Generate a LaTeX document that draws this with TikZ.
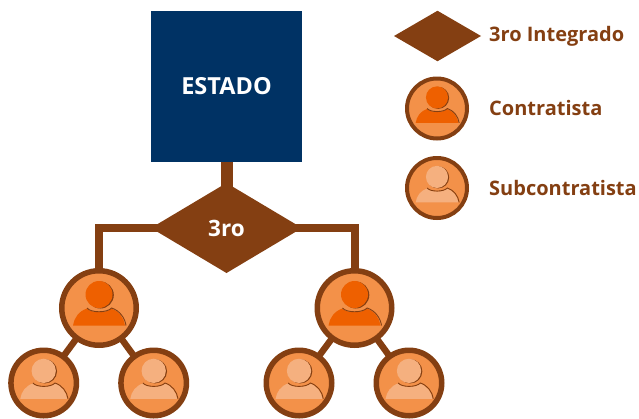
\documentclass[tikz,border=0pt]{standalone}
\usepackage{fontspec}
\setmainfont{Open Sans}
\usetikzlibrary{shapes.geometric,backgrounds}
\definecolor{brn}{HTML}{843F12}
\definecolor{org}{HTML}{F39149}
\definecolor{vivid}{HTML}{EE6000}
\definecolor{pale}{HTML}{F5B07F}
\definecolor{navy}{HTML}{003264}
\tikzset{
  x=1pt,y=-1pt,
  disc/.style={circle,draw=brn,fill=org,inner sep=0pt,outer sep=0pt},
  bigdisc/.style={disc,line width=5.5pt,minimum size=74.5pt},
  smalldisc/.style={disc,line width=5.5pt,minimum size=65.5pt},
  keydisc/.style={disc,line width=4pt,minimum size=60pt},
  rhomb/.style={diamond,fill=brn,inner sep=0pt,outer sep=0pt,shape aspect=1.68},
  link/.style={draw=brn,line width=8pt},
  twig/.style={draw=brn,line width=6.5pt},
  trunk/.style={draw=brn,line width=12pt},
  keytext/.style={anchor=west,text=brn,font=\fontsize{20}{20}\selectfont\bfseries,inner sep=0pt},
  person/.pic={
    \fill[brn] (1.3,-13) circle[radius=13.5];
    \fill[#1] (0,-13.5) circle[radius=13.5];
    \fill[#1] (-26,17.5) .. controls (-25,10) and (-20,3) .. (-12,0.5)
      .. controls (-8,5.5) and (8,5.5) .. (12,0.5)
      .. controls (20,3) and (25,10) .. (26,17.5) -- cycle;
    \draw[brn,line width=.9pt] (-12,0) .. controls (-8,5) and (8,5) .. (12.6,0)
      .. controls (20.6,2.5) and (26,10) .. (27,17.5);
  }
}
\begin{document}
\begin{tikzpicture}
\useasboundingbox (0,0) rectangle (639,418);
\node[fill=navy,minimum size=151pt,inner sep=0pt,outer sep=0pt,text=white,font=\fontsize{23.5}{23.5}\selectfont\bfseries] (state) at (226.5,86.5) {ESTADO};
\node[rhomb,minimum width=151pt,minimum height=90pt,text=white,font=\fontsize{22.5}{22.5}\selectfont\bfseries] (third) at (226.5,228) {3ro};
\node[bigdisc] (la) at (99,308) {};
\node[bigdisc] (ra) at (354.5,308) {};
\node[smalldisc] (la1) at (43.7,383) {};
\node[smalldisc] (la2) at (153.7,383) {};
\node[smalldisc] (ra1) at (299,383) {};
\node[smalldisc] (ra2) at (409,383) {};
\begin{scope}[on background layer]
\draw[trunk] (state.center) -- (third.center);
\draw[link] (third.center) -| (la.center);
\draw[link] (third.center) -| (ra.center);
\draw[twig] (la.center) -- (la1.center);
\draw[twig] (la.center) -- (la2.center);
\draw[twig] (ra.center) -- (ra1.center);
\draw[twig] (ra.center) -- (ra2.center);
\end{scope}
\pic at (la) {person=vivid};
\pic at (ra) {person=vivid};
\pic[scale=.9] at (la1) {person=pale};
\pic[scale=.9] at (la2) {person=pale};
\pic[scale=.9] at (ra1) {person=pale};
\pic[scale=.9] at (ra2) {person=pale};
% legend
\node[rhomb,minimum width=87pt,minimum height=50.5pt,shape aspect=1.72] (keyd) at (437.5,36) {};
\node[keydisc] (keyc) at (437,108.5) {};
\node[keydisc] (keys) at (437,188) {};
\pic[scale=.82] at (keyc) {person=vivid};
\pic[scale=.82] at (keys) {person=pale};
\node[keytext] (t1) at (489,36) {3ro Integrado};
\node[keytext] (t2) at (489,108) {Contratista};
\node[keytext] (t3) at (489,188) {Subcontratista};
\end{tikzpicture}
\end{document}
